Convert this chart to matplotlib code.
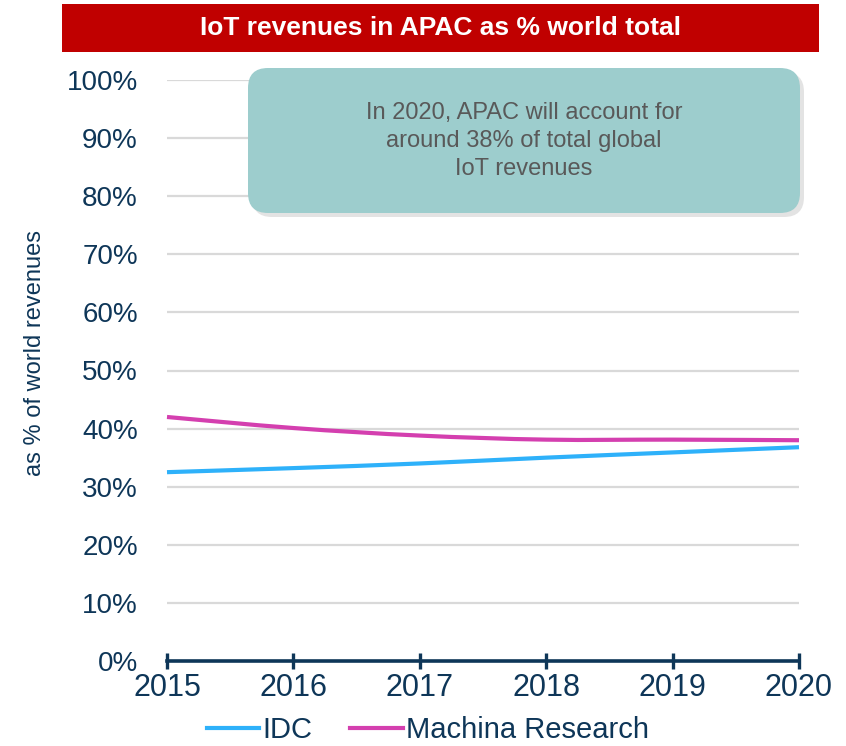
import numpy as np
import matplotlib
matplotlib.use('Agg')
from matplotlib import pyplot as plt
from matplotlib.path import Path
from matplotlib.patches import PathPatch, FancyBboxPatch, Rectangle
from matplotlib.lines import Line2D

# data
years = [2015, 2016, 2017, 2018, 2019, 2020]
idc = [32.5, 33.2, 34.0, 35.0, 35.9, 36.8]
machina = [42.0, 40.1, 38.8, 38.1, 38.1, 38.0]
series_names = ['IDC', 'Machina Research']
yticks = [0, 10, 20, 30, 40, 50, 60, 70, 80, 90, 100]

title = 'IoT revenues in APAC as % world total'
note = 'In 2020, APAC will account for\naround 38% of total global\nIoT revenues'
ylabel = 'as % of world revenues'

# colours
red = '#C00000'
blue = '#2EB1FA'
pink = '#D43FAF'
navy = '#0E3658'
grid = '#D9D9D9'
teal = '#9DCDCD'

plt.rcParams['font.family'] = ['Liberation Sans', 'DejaVu Sans']


def smooth_path(xs, ys):
    # Excel-like smoothed line: cubic bezier through the points
    xs = np.asarray(xs, float)
    ys = np.asarray(ys, float)
    n = len(xs)
    verts = [(xs[0], ys[0])]
    codes = [Path.MOVETO]
    for i in range(n - 1):
        i0 = max(i - 1, 0)
        i3 = min(i + 2, n - 1)
        c1 = (xs[i] + (xs[i + 1] - xs[i0]) / 6, ys[i] + (ys[i + 1] - ys[i0]) / 6)
        c2 = (xs[i + 1] - (xs[i3] - xs[i]) / 6, ys[i + 1] - (ys[i3] - ys[i]) / 6)
        verts += [c1, c2, (xs[i + 1], ys[i + 1])]
        codes += [Path.CURVE4] * 3
    return Path(verts, codes)


fig = plt.figure(figsize=(8.46, 7.46), dpi=100, facecolor='white')
ax = fig.add_axes([167 / 846, 85 / 746, 632 / 846, 581 / 746])

for vals, col in [(idc, blue), (machina, pink)]:
    ax.add_patch(PathPatch(smooth_path(years, vals), fill=False, edgecolor=col,
                           linewidth=3, capstyle='butt', clip_on=False, zorder=3))

ax.set_xlim(2015, 2020)
ax.set_ylim(0, 100)
ax.set_xticks(years)
ax.set_yticks(yticks)
ax.set_yticklabels(['%d%%' % v for v in yticks])
ax.grid(axis='y', color=grid, linewidth=1.6)
ax.set_axisbelow(True)
for s in ['left', 'right', 'top']:
    ax.spines[s].set_visible(False)
ax.spines['bottom'].set_color(navy)
ax.spines['bottom'].set_linewidth(2.6)
ax.spines['bottom'].set_zorder(4)
ax.tick_params(axis='x', direction='inout', length=11, width=2.4, color=navy,
               labelcolor=navy, labelsize=22, pad=3)
ax.tick_params(axis='y', length=0, labelcolor=navy, labelsize=20, pad=21)
for t in ax.get_xticklabels():
    t.set_clip_on(False)

fig.text(35 / 846, 1 - 353 / 746, ylabel, rotation=90, ha='center', va='center',
         fontsize=17, color=navy)

# overlay in pixel coordinates for the title bar and the note box
ov = fig.add_axes([0, 0, 1, 1], zorder=5)
ov.set_xlim(0, 846)
ov.set_ylim(746, 0)
ov.axis('off')
ov.patch.set_alpha(0)

ov.add_patch(Rectangle((62, 4), 757, 48, facecolor=red, edgecolor='none'))
ov.text(440, 28, title, ha='center', va='center', color='white', fontsize=19,
        fontweight='bold')

ov.add_patch(FancyBboxPatch((252, 72), 552, 145, boxstyle='round,pad=0,rounding_size=20',
                            facecolor='#C8C8C8', edgecolor='none', alpha=0.5))
ov.add_patch(FancyBboxPatch((248, 68), 552, 145, boxstyle='round,pad=0,rounding_size=20',
                            facecolor=teal, edgecolor='none'))
ov.text(524, 141, note, ha='center', va='center', color='#595959', fontsize=17,
        linespacing=1.37)

handles = [Line2D([], [], color=blue, linewidth=3),
           Line2D([], [], color=pink, linewidth=3)]
fig.legend(handles, series_names, loc='center', bbox_to_anchor=(428 / 846, 1 - 730 / 746),
           ncol=2, frameon=False, fontsize=21, labelcolor=navy, handlelength=1.8,
           handletextpad=0.12, columnspacing=1.3, borderpad=0.1)

fig.savefig('out.png', dpi=100, facecolor='white')
